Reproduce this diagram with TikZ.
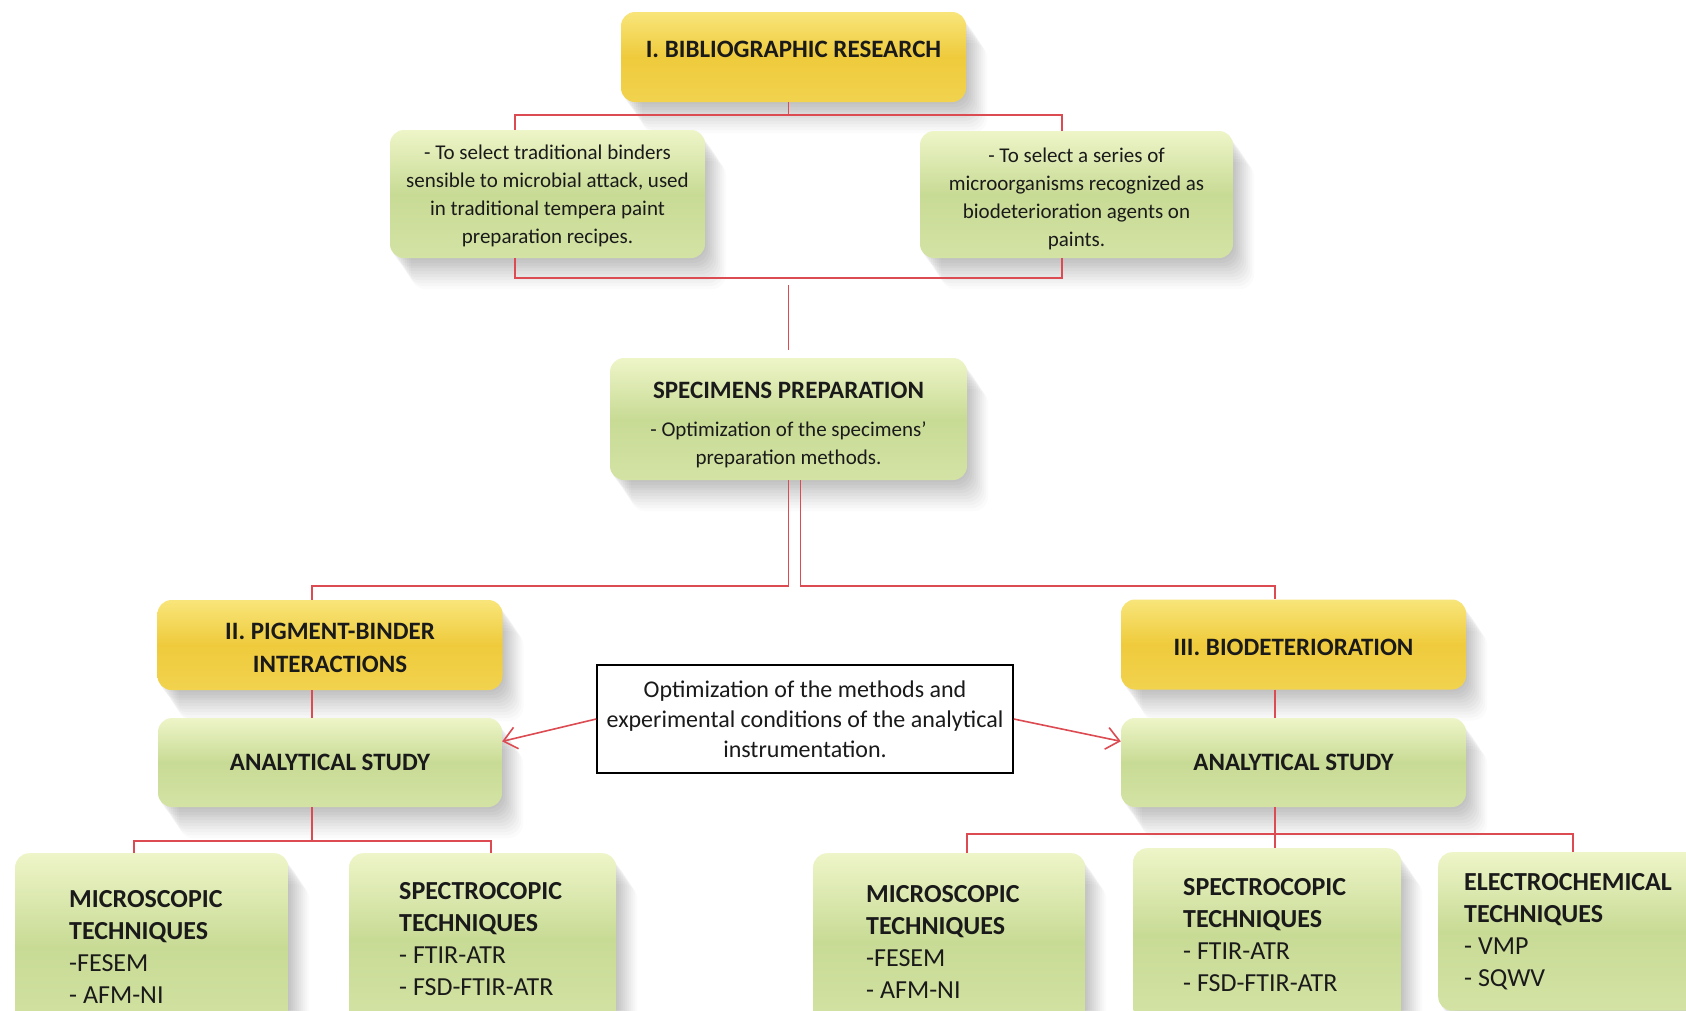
\documentclass[tikz,border=0pt]{standalone}
\usepackage{fontspec}
\setmainfont{Carlito}
\usetikzlibrary{arrows.meta}
\definecolor{ylwtop}{HTML}{F8E57A}
\definecolor{ylwmid}{HTML}{EFCB3C}
\definecolor{grntop}{HTML}{EEF5C8}
\definecolor{grnmid}{HTML}{C8DB95}
\definecolor{rouge}{HTML}{DC4A52}
\definecolor{texte}{HTML}{1A1A1A}
\newcommand\titre{\fontsize{25}{33}\selectfont\bfseries}
\newcommand\descr{\fontsize{21}{28}\selectfont}
\newcommand\textopt{\fontsize{24}{30}\selectfont}
\newcommand\textech{\fontsize{26}{32}\selectfont}
\begin{document}
\begin{tikzpicture}[x=1pt,y=-1pt]
    \tikzstyle{ombre}=[preaction={fill=black,opacity=.025,transform canvas={shift={(1pt,-2pt)}}},
        preaction={fill=black,opacity=.025,transform canvas={shift={(3pt,-5pt)}}},
        preaction={fill=black,opacity=.025,transform canvas={shift={(5pt,-8pt)}}},
        preaction={fill=black,opacity=.025,transform canvas={shift={(7pt,-10pt)}}},
        preaction={fill=black,opacity=.025,transform canvas={shift={(9pt,-13pt)}}},
        preaction={fill=black,opacity=.025,transform canvas={shift={(11pt,-16pt)}}},
        preaction={fill=black,opacity=.025,transform canvas={shift={(13pt,-19pt)}}},
        preaction={fill=black,opacity=.025,transform canvas={shift={(15pt,-22pt)}}},
        preaction={fill=black,opacity=.02,transform canvas={shift={(17pt,-25pt)}}},
        preaction={fill=black,opacity=.02,transform canvas={shift={(19pt,-28pt)}}},
        preaction={fill=black,opacity=.015,transform canvas={shift={(21pt,-31pt)}}}]
    \tikzstyle{boite}=[ombre,rounded corners=14pt,align=center,text=texte]
    \tikzstyle{jaune}=[boite,top color=ylwtop,bottom color=ylwmid!70!ylwtop,middle color=ylwmid,
        minimum width=345pt,minimum height=90pt,font=\titre]
    \tikzstyle{vert}=[boite,top color=grntop,bottom color=grnmid!70!grntop,middle color=grnmid]
    \tikzstyle{tech}=[vert,anchor=north west,align=flush left,font=\textech]
    \tikzstyle{cadre}=[draw=black,line width=1.6pt,fill=white,align=center,text=texte,font=\textopt]
    \tikzstyle{trait}=[draw=rouge,line width=1.6pt]
    \tikzstyle{fleche}=[trait,-{Straight Barb[length=13pt,width=22pt]}]
    \useasboundingbox (0,0) rectangle (1686,1010);
    \clip (0,0) rectangle (1686,1010);
    \fill[white] (0,0) rectangle (1686,1010);
    % step I
    \node[jaune] (biblio) at (793.5,57) {I. BIBLIOGRAPHIC RESEARCH\rule[-15pt]{0pt}{0pt}};
    \node[vert,font=\descr,minimum width=315pt,minimum height=128pt] (liants) at (547.5,194)
        {\rule{0pt}{19pt}- To select traditional binders\\sensible to microbial attack, used\\in traditional tempera paint\\preparation recipes.};
    \node[vert,font=\descr,minimum width=313pt,minimum height=127pt] (microorg) at (1076.5,194.5)
        {\rule{0pt}{24pt}- To select a series of\\microorganisms recognized as\\biodeterioration agents on\\paints.};
    \node[vert,font=\descr,minimum width=357pt,minimum height=122pt] (specimens) at (788.5,419)
        {{\titre\rule{0pt}{28pt}SPECIMENS PREPARATION}\\[10pt]- Optimization of the specimens'\\preparation methods.};
    % steps II and III
    \node[jaune] (pigment) at (330,645) {\rule{0pt}{22pt}II. PIGMENT-BINDER\\INTERACTIONS};
    \node[vert,font=\titre,minimum width=344pt,minimum height=89pt] (anaL) at (330,762.5) {ANALYTICAL STUDY};
    \node[jaune] (biodet) at (1293.5,644.5) {\rule{0pt}{22pt}III. BIODETERIORATION};
    \node[vert,font=\titre,minimum width=345pt,minimum height=89pt] (anaR) at (1293.5,762.5) {ANALYTICAL STUDY};
    \node[cadre,minimum width=416pt,minimum height=108pt] (optim) at (805,719)
        {Optimization of the methods and\\experimental conditions of the analytical\\instrumentation.};
    % techniques
    \node[tech,text width=165pt,inner xsep=54pt,inner ysep=37pt] (micL) at (15,853)
        {{\bfseries MICROSCOPIC\\TECHNIQUES}\\-FESEM\\- AFM-NI};
    \node[tech,text width=167pt,inner xsep=50pt,inner ysep=29pt] (specL) at (349,853)
        {{\bfseries SPECTROCOPIC\\TECHNIQUES}\\- FTIR-ATR\\- FSD-FTIR-ATR};
    \node[tech,text width=166pt,inner xsep=53pt,inner ysep=32pt] (micR) at (813,853)
        {{\bfseries MICROSCOPIC\\TECHNIQUES}\\-FESEM\\- AFM-NI};
    \node[tech,text width=168pt,inner xsep=50pt,inner ysep=30pt] (specR) at (1133,848)
        {{\bfseries SPECTROCOPIC\\TECHNIQUES}\\- FTIR-ATR\\- FSD-FTIR-ATR};
    \node[tech,text width=210pt,inner xsep=26pt,inner ysep=21pt] (elec) at (1438,852)
        {{\bfseries ELECTROCHEMICAL\\TECHNIQUES}\\- VMP\\- SQWV};
    % connectors
    \coordinate (hautG) at (515,115);
    \coordinate (hautD) at (1062,115);
    \coordinate (basG) at (515,278);
    \coordinate (basD) at (1062,278);
    \draw[trait] (biblio.south -| specimens.north) -- (hautG -| specimens.north);
    \draw[trait] (liants.north -| hautG) -- (hautG) -- (hautD) -- (microorg.north -| hautD);
    \draw[trait] (liants.south -| basG) -- (basG) -- (basD) -- (microorg.south -| basD);
    \draw[trait] ([yshift=8pt]specimens.north) -- ++(0,-65);
    \coordinate (brG) at (312,586);
    \coordinate (brD) at (1275,586);
    \draw[trait] (specimens.south) |- (brG) -- (pigment.north -| brG);
    \draw[trait] ([xshift=12pt]specimens.south) |- (brD) -- (biodet.north -| brD);
    \draw[trait] (pigment.south -| brG) -- (anaL.north -| brG);
    \draw[trait] (biodet.south -| brD) -- (anaR.north -| brD);
    \draw[fleche] (optim.west) -- (anaL.7);
    \draw[fleche] (optim.east) -- (anaR.173);
    \coordinate (busG) at (312,841);
    \coordinate (micGx) at (134,841);
    \coordinate (specGx) at (491,841);
    \draw[trait] (anaL.south -| busG) -- (busG);
    \draw[trait] (micL.north -| micGx) -- (micGx) -- (specGx) -- (specL.north -| specGx);
    \coordinate (busD) at (1275,834);
    \coordinate (micDx) at (967,834);
    \coordinate (elecDx) at (1573,834);
    \draw[trait] (anaR.south -| busD) -- (specR.north -| busD);
    \draw[trait] (micR.north -| micDx) -- (micDx) -- (elecDx) -- (elec.north -| elecDx);
\end{tikzpicture}
\end{document}
